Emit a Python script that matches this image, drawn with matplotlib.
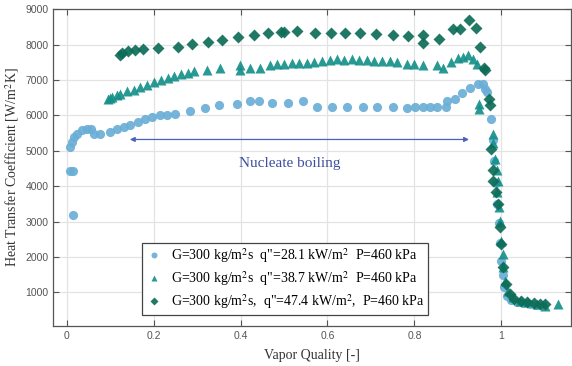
import matplotlib
matplotlib.use("Agg")
import matplotlib.pyplot as plt

# G=300 kg/m2s, q"=28.1 kW/m2
x_q28 = [0.014, 0.008, 0.014, 0.008, 0.012, 0.016, 0.023, 0.035, 0.046, 0.055, 0.064, 0.077,
         0.100, 0.115, 0.131, 0.146, 0.165, 0.180, 0.196, 0.215, 0.230, 0.249, 0.284, 0.318,
         0.351, 0.391, 0.422, 0.443, 0.472, 0.510, 0.543, 0.575, 0.611, 0.646, 0.681, 0.714,
         0.750, 0.782, 0.801, 0.820, 0.837, 0.853, 0.872, 0.874, 0.893, 0.910, 0.929, 0.947,
         0.958, 0.962, 0.966, 0.977, 0.980, 0.984, 0.987, 0.990, 0.994, 0.997, 1.000, 1.003,
         1.006, 1.012, 1.022, 1.035, 1.050, 1.065, 1.080]
h_q28 = [3200, 4420, 4440, 5100, 5240, 5385, 5480, 5575, 5620, 5610, 5480, 5480,
         5525, 5620, 5670, 5715, 5810, 5905, 5950, 6000, 6000, 6045, 6120, 6205,
         6280, 6330, 6400, 6420, 6355, 6355, 6400, 6235, 6235, 6235, 6250, 6235,
         6235, 6215, 6235, 6250, 6250, 6250, 6250, 6420, 6470, 6630, 6780, 6895,
         6895, 6750, 6660, 5885, 5300, 4700, 4100, 3500, 2950, 2400, 1900, 1500,
         1150, 900, 780, 720, 690, 660, 650]

# G=300 kg/m2s, q"=38.7 kW/m2
x_q38 = [0.096, 0.100, 0.105, 0.115, 0.123, 0.138, 0.154, 0.169, 0.184, 0.202, 0.217, 0.233,
         0.247, 0.262, 0.278, 0.294, 0.322, 0.353, 0.399, 0.399, 0.422, 0.445, 0.467, 0.483,
         0.500, 0.518, 0.534, 0.552, 0.570, 0.587, 0.606, 0.621, 0.638, 0.656, 0.672, 0.690,
         0.708, 0.725, 0.744, 0.759, 0.782, 0.799, 0.820, 0.851, 0.866, 0.885, 0.900, 0.912,
         0.924, 0.935, 0.944, 0.949, 0.949, 0.980, 0.982, 0.985, 0.989, 0.990, 0.993, 0.995,
         0.997, 1.000, 1.003, 1.004, 1.008, 1.016, 1.027, 1.043, 1.062, 1.081, 1.100, 1.130]
h_q38 = [6470, 6490, 6515, 6565, 6610, 6680, 6725, 6800, 6865, 6940, 7005, 7065,
         7110, 7160, 7205, 7250, 7290, 7345, 7410, 7270, 7350, 7350, 7410, 7460,
         7460, 7480, 7480, 7490, 7505, 7535, 7555, 7580, 7575, 7580, 7575, 7555,
         7535, 7535, 7535, 7505, 7460, 7460, 7420, 7420, 7340, 7510, 7620, 7660,
         7700, 7600, 7440, 6330, 6190, 5480, 5220, 4775, 4445, 3830, 4160, 3405,
         3030, 2460, 2085, 1710, 1330, 1050, 860, 765, 720, 670, 625, 670]

# G=300 kg/m2s, q"=47.4 kW/m2
x_q47 = [0.123, 0.128, 0.142, 0.157, 0.175, 0.210, 0.256, 0.288, 0.326, 0.357, 0.395, 0.432,
         0.464, 0.493, 0.501, 0.529, 0.571, 0.608, 0.640, 0.675, 0.711, 0.750, 0.785, 0.820,
         0.820, 0.857, 0.888, 0.906, 0.926, 0.941, 0.951, 0.961, 0.962, 0.972, 0.974, 0.977,
         0.980, 0.982, 0.987, 0.993, 0.997, 1.000, 1.004, 1.010, 1.020, 1.030, 1.045, 1.060,
         1.075, 1.090, 1.100]
h_q47 = [7700, 7760, 7820, 7860, 7885, 7900, 7940, 8025, 8070, 8130, 8215, 8270,
         8320, 8355, 8355, 8380, 8325, 8330, 8330, 8320, 8290, 8270, 8250, 8270,
         8035, 8150, 8430, 8430, 8685, 8460, 7920, 7340, 7290, 6460, 6300, 5055,
         4445, 4160, 3830, 3500, 2840, 2370, 1710, 1235, 955, 820, 760, 720,
         700, 680, 660]

labels = [
    'G=300 kg/m$^2$s  q"=28.1 kW/m$^2$  P=460 kPa',
    'G=300 kg/m$^2$s  q"=38.7 kW/m$^2$  P=460 kPa',
    'G=300 kg/m$^2$s,  q"=47.4 kW/m$^2$,  P=460 kPa',
]
x_ticks = [0, 0.2, 0.4, 0.6, 0.8, 1]
y_ticks = [1000, 2000, 3000, 4000, 5000, 6000, 7000, 8000, 9000]

plt.rcParams["mathtext.fontset"] = "stix"
serif = ["Liberation Serif", "DejaVu Serif"]

fig = plt.figure(figsize=(5.72, 3.66), dpi=100)
ax = fig.add_axes([0.093, 0.11, 0.905, 0.865])

ax.plot(x_q28, h_q28, "o", color="#6aaed6", ms=6.6, mec="none", alpha=0.92, label=labels[0])
ax.plot(x_q38, h_q38, "^", color="#17908a", ms=7.2, mec="none", alpha=0.92, label=labels[1])
ax.plot(x_q47, h_q47, "D", color="#0d6d58", ms=6.3, mec="none", alpha=0.92, label=labels[2])

# nucleate boiling region
ax.annotate("", xy=(0.932, 5320), xytext=(0.139, 5320),
            arrowprops=dict(arrowstyle="<|-|>", color="#4a62b8", lw=0.9, mutation_scale=7))
ax.text(0.514, 4640, "Nucleate boiling", color="#3d4fa0", fontsize=11,
        family=serif, ha="center", va="center")

ax.set_xlim(-0.031, 1.16)
ax.set_ylim(60, 9000)
ax.set_xticks(x_ticks)
ax.set_xticklabels(["0", "0.2", "0.4", "0.6", "0.8", "1"])
ax.set_yticks(y_ticks)
ax.grid(True, color="#e3e3e3", lw=0.9)
ax.set_axisbelow(True)
ax.tick_params(direction="in", top=True, right=True, length=4, width=0.8,
               color="#555555", labelcolor="#555555", labelsize=7.5)
for lab in ax.get_xticklabels() + ax.get_yticklabels():
    lab.set_family("Liberation Sans")
for sp in ax.spines.values():
    sp.set_color("#555555")
    sp.set_linewidth(0.9)

ax.set_xlabel("Vapor Quality [-]", family=serif, fontsize=10, color="#333333", labelpad=6)
ax.set_ylabel("Heat Transfer Coefficient [W/m$^2$K]", family=serif, fontsize=10,
              color="#333333", labelpad=3)

leg = ax.legend(loc="lower left", bbox_to_anchor=(0.172, 0.035), borderaxespad=0,
                prop={"family": serif, "size": 10}, markerscale=0.65, handlelength=1.2,
                handletextpad=0.6, labelspacing=0.3, fancybox=False, framealpha=1,
                edgecolor="#444444", borderpad=0.25)
leg.get_frame().set_linewidth(0.9)

fig.savefig("out.png", dpi=100)
